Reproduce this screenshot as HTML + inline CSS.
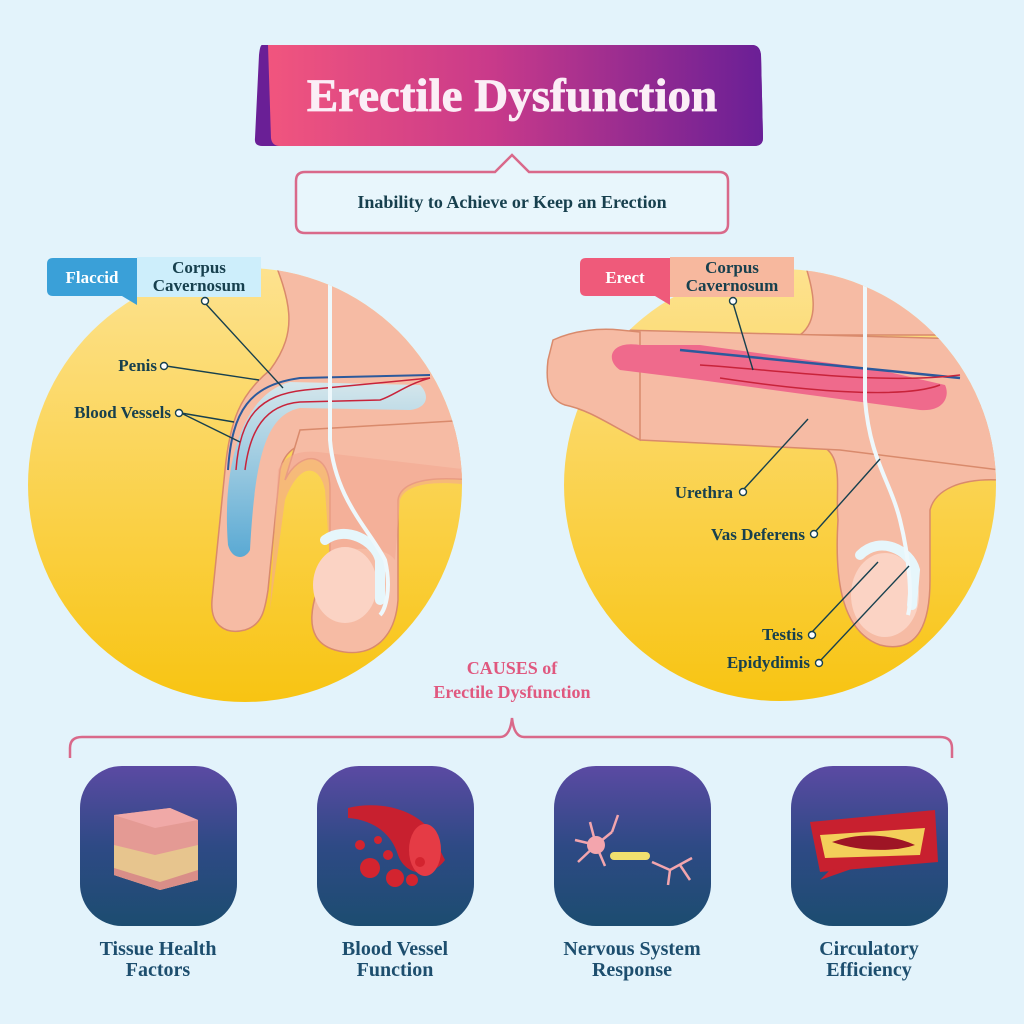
<!DOCTYPE html>
<html><head><meta charset="utf-8"><style>
html,body{margin:0;padding:0;background:#e3f3fb}
svg{display:block}
.lb{font-family:"Liberation Serif",serif;font-weight:bold;fill:#17404e}
</style></head><body>
<svg width="1024" height="1024" viewBox="0 0 1024 1024" xmlns="http://www.w3.org/2000/svg">
<defs>
<linearGradient id="ban" x1="0" x2="1" y1="0" y2="0"><stop offset="0" stop-color="#f1557e"/><stop offset="0.45" stop-color="#c93a8a"/><stop offset="1" stop-color="#6a1f96"/></linearGradient>
<linearGradient id="yel" x1="0" x2="0" y1="0" y2="1"><stop offset="0" stop-color="#fde28f"/><stop offset="1" stop-color="#f8c412"/></linearGradient>
<linearGradient id="tile" x1="0" x2="0" y1="0" y2="1"><stop offset="0" stop-color="#5b4aa3"/><stop offset="0.5" stop-color="#2e4a85"/><stop offset="1" stop-color="#1c4c70"/></linearGradient>
<linearGradient id="blu" x1="0" x2="0" y1="0" y2="1"><stop offset="0" stop-color="#cfeef8"/><stop offset="1" stop-color="#3ea6dc"/></linearGradient>
<clipPath id="cl"><circle cx="245" cy="485" r="217"/></clipPath>
<clipPath id="cr"><circle cx="780" cy="485" r="216"/></clipPath>
</defs>
<rect width="1024" height="1024" fill="#e3f3fb"/>

<!-- Banner -->
<path d="M262,45 L752,45 Q760,45 761,55 L763,138 Q763,146 754,146 L262,146 Q254,146 255,138 L259,55 Q260,45 262,45Z" fill="#6a1f96"/>
<path d="M268,45 L752,45 Q760,45 761,55 L763,138 Q763,146 754,146 L280,146 Q272,146 271,138 Z" fill="url(#ban)"/>
<text x="512" y="111" text-anchor="middle" font-family="Liberation Serif,serif" font-weight="bold" font-size="47" fill="#fbeef6" stroke="#fbeef6" stroke-width="0.8">Erectile Dysfunction</text>

<!-- Subtitle -->
<path d="M305,172 L495,172 L512,155 L529,172 L719,172 Q728,172 728,181 L728,224 Q728,233 719,233 L305,233 Q296,233 296,224 L296,181 Q296,172 305,172Z" fill="#e8f6fc" stroke="#d9698a" stroke-width="2.5"/>
<text x="512" y="208" text-anchor="middle" class="lb" font-size="18" fill="#1d3f55">Inability to Achieve or Keep an Erection</text>

<!-- Left circle -->
<circle cx="245" cy="485" r="217" fill="url(#yel)"/>
<g clip-path="url(#cl)">
  <path d="M270,250 C290,300 300,330 270,370 C240,395 230,420 225,470 L212,600 C210,625 225,635 245,630 C262,625 265,610 268,590 L280,470 C285,450 300,440 320,445 L470,470 L470,250Z" fill="#f6bba4" stroke="#d98a6c" stroke-width="1.5"/>
  <path d="M285,480 C300,450 330,450 330,490 L330,560 C310,600 300,640 335,650 C370,660 395,640 398,600 L398,500 C400,485 420,475 470,480 L470,420 L300,430Z" fill="#f6bba4" stroke="#d98a6c" stroke-width="1.5"/>
  <path d="M278,470 C285,455 300,450 318,452 L470,470 L470,485 C430,480 405,485 400,500 L395,560 C385,545 345,545 330,560 L325,490 C320,465 300,460 285,500 L270,610 Z" fill="#f4a993" opacity="0.6"/>
  <ellipse cx="345" cy="585" rx="32" ry="38" fill="#fbd3c4"/>
  <path d="M325,540 C345,525 375,540 380,560 L380,600" stroke="#e6f6fb" stroke-width="10" fill="none" stroke-linecap="round"/>
  <path d="M228,545 C222,470 240,395 290,382 L420,385 C430,395 428,408 410,410 L300,408 C265,415 255,460 250,550 C245,560 232,560 228,545Z" fill="url(#blu)" opacity="0.85"/>
  <path d="M228,470 C232,410 250,385 300,378 L430,375" stroke="#2c5a9c" stroke-width="2" fill="none"/>
  <path d="M236,470 C240,415 260,395 305,390 L430,378" stroke="#c8233a" stroke-width="1.5" fill="none"/>
  <path d="M245,470 C250,430 265,405 300,402 L380,400 C395,395 405,385 430,378" stroke="#c8233a" stroke-width="1.5" fill="none"/>
  <path d="M330,250 L330,440 C335,500 370,530 385,560 C392,590 385,610 380,615" stroke="#eef8fc" stroke-width="4" fill="none"/>
</g>
<!-- Left labels -->
<path d="M49,258 L137,258 L137,305 L122,296 L53,296 Q47,296 47,290 L47,264 Q47,258 53,258Z" fill="#3aa0d8"/>
<text x="92" y="283" text-anchor="middle" font-family="Liberation Serif,serif" font-weight="bold" font-size="17" fill="#fff">Flaccid</text>
<rect x="137" y="257" width="124" height="40" fill="#cdeefb"/>
<text x="199" y="273" text-anchor="middle" class="lb" font-size="17">Corpus</text>
<text x="199" y="291" text-anchor="middle" class="lb" font-size="17">Cavernosum</text>
<g stroke="#17404e" stroke-width="1.4" fill="#fff">
<line x1="205" y1="303" x2="283" y2="388"/><circle cx="205" cy="301" r="3.5"/>
<line x1="166" y1="366" x2="259" y2="380"/><circle cx="164" cy="366" r="3.5"/>
<line x1="181" y1="413" x2="234" y2="422"/><line x1="181" y1="413" x2="240" y2="442"/><circle cx="179" cy="413" r="3.5"/>
</g>
<text x="157" y="371" text-anchor="end" class="lb" font-size="17">Penis</text>
<text x="171" y="418" text-anchor="end" class="lb" font-size="17">Blood Vessels</text>

<!-- Right circle -->
<circle cx="780" cy="485" r="216" fill="url(#yel)"/>
<g clip-path="url(#cr)">
  <path d="M800,250 C815,290 820,320 800,335 L1000,335 L1000,250Z" fill="#f6bba4" stroke="#d98a6c" stroke-width="1.5"/>
  <path d="M820,445 C845,455 835,490 838,520 C835,570 838,630 880,645 C920,655 930,620 930,580 L930,510 C935,490 960,478 1000,480 L1000,400 Z" fill="#f6bba4" stroke="#d98a6c" stroke-width="1.5"/>
  <ellipse cx="885" cy="595" rx="34" ry="42" fill="#fbd3c4"/>
  <path d="M860,555 C880,535 910,550 915,570 L912,605" stroke="#e6f6fb" stroke-width="10" fill="none" stroke-linecap="round"/>
</g>
<path d="M553,340 C575,330 600,328 620,330 L820,335 L1000,340 L1000,470 L840,450 L640,440 C610,425 590,410 565,405 C550,400 545,385 548,360 Z" fill="#f6bba4" stroke="#d98a6c" stroke-width="1.5" clip-path="url(#cr)"/>
<path d="M553,340 C575,330 600,328 620,330 L640,332 L640,440 C610,425 590,410 565,405 C550,400 545,385 548,360 Z" fill="#f6bba4" stroke="#d98a6c" stroke-width="1.5"/>
<path d="M640,345 C610,340 605,360 620,370 L700,380 L920,410 C945,412 950,395 945,385 L880,370 L700,345Z" fill="#ef6a8c"/>
<path d="M680,350 L960,378" stroke="#2c5a9c" stroke-width="2.5" fill="none" clip-path="url(#cr)"/>
<path d="M700,365 C780,370 880,385 960,375" stroke="#c8233a" stroke-width="1.5" fill="none" clip-path="url(#cr)"/>
<path d="M720,378 C800,390 900,400 940,385" stroke="#c8233a" stroke-width="1.5" fill="none"/>
<path d="M865,285 L865,400 C870,460 890,480 900,520 C910,560 912,600 908,615" stroke="#eef8fc" stroke-width="4" fill="none" clip-path="url(#cr)"/>
<!-- Right labels -->
<path d="M586,258 L670,258 L670,305 L655,296 L586,296 Q580,296 580,290 L580,264 Q580,258 586,258Z" fill="#ef5a7a"/>
<text x="625" y="283" text-anchor="middle" font-family="Liberation Serif,serif" font-weight="bold" font-size="17" fill="#fff">Erect</text>
<rect x="670" y="257" width="124" height="40" fill="#f7b89e"/>
<text x="732" y="273" text-anchor="middle" class="lb" font-size="17">Corpus</text>
<text x="732" y="291" text-anchor="middle" class="lb" font-size="17">Cavernosum</text>
<g stroke="#17404e" stroke-width="1.4" fill="#fff">
<line x1="733" y1="303" x2="753" y2="370"/><circle cx="733" cy="301" r="3.5"/>
<line x1="743" y1="490" x2="808" y2="419"/><circle cx="743" cy="492" r="3.5"/>
<line x1="815" y1="532" x2="880" y2="459"/><circle cx="814" cy="534" r="3.5"/>
<line x1="812" y1="632" x2="878" y2="562"/><circle cx="812" cy="635" r="3.5"/>
<line x1="820" y1="661" x2="909" y2="566"/><circle cx="819" cy="663" r="3.5"/>
</g>
<text x="733" y="498" text-anchor="end" class="lb" font-size="17">Urethra</text>
<text x="805" y="540" text-anchor="end" class="lb" font-size="17">Vas Deferens</text>
<text x="803" y="640" text-anchor="end" class="lb" font-size="17">Testis</text>
<text x="810" y="668" text-anchor="end" class="lb" font-size="17">Epidydimis</text>

<!-- Causes -->
<text x="512" y="674" text-anchor="middle" font-family="Liberation Serif,serif" font-weight="bold" font-size="18" fill="#e0587f">CAUSES of</text>
<text x="512" y="698" text-anchor="middle" font-family="Liberation Serif,serif" font-weight="bold" font-size="18" fill="#e0587f">Erectile Dysfunction</text>
<path d="M70,758 L70,748 Q70,737 82,737 L500,737 Q510,737 512,718 Q514,737 524,737 L940,737 Q952,737 952,748 L952,758" stroke="#d9698a" stroke-width="2.5" fill="none"/>

<!-- Tiles -->
<g>
<rect x="80" y="766" width="157" height="160" rx="42" fill="url(#tile)"/>
<rect x="317" y="766" width="157" height="160" rx="42" fill="url(#tile)"/>
<rect x="554" y="766" width="157" height="160" rx="42" fill="url(#tile)"/>
<rect x="791" y="766" width="157" height="160" rx="42" fill="url(#tile)"/>
</g>
<!-- tissue -->
<path d="M114,815 L170,808 L198,820 L198,880 L160,890 L114,875Z" fill="#e49a94"/>
<path d="M114,815 L170,808 L198,820 L155,828Z" fill="#f0a9a7"/>
<path d="M114,845 L155,855 L198,845 L198,880 L160,890 L114,875Z" fill="#e7c58e"/>
<path d="M114,868 L160,882 L198,870 L198,880 L160,890 L114,875Z" fill="#d98e88"/>
<!-- blood vessel -->
<path d="M348,808 C380,800 415,810 430,830 L445,860 C430,880 405,875 398,855 C392,835 375,820 348,818Z" fill="#c8202f"/>
<ellipse cx="425" cy="850" rx="16" ry="26" fill="#e53b45"/>
<g fill="#d3242f"><circle cx="370" cy="868" r="10"/><circle cx="395" cy="878" r="9"/><circle cx="360" cy="845" r="5"/><circle cx="378" cy="840" r="4"/><circle cx="412" cy="880" r="6"/><circle cx="420" cy="862" r="5"/><circle cx="388" cy="855" r="5"/></g>
<!-- neuron -->
<g stroke="#f3a5ad" stroke-width="2.5" fill="none">
<path d="M575,840 L596,845 L612,832 M596,845 L590,822 M596,845 L578,862 M596,845 L605,866 M612,832 L618,815"/>
<path d="M652,862 L670,870 L692,858 M670,870 L668,885 M680,865 L690,880"/>
</g>
<circle cx="596" cy="845" r="9" fill="#f3a5ad"/>
<rect x="610" y="852" width="40" height="8" rx="4" fill="#f0e06e"/>
<!-- circulatory -->
<path d="M810,822 L935,810 L938,862 L820,872 Z" fill="#c8202f"/>
<path d="M820,835 L925,828 L920,855 L825,858Z" fill="#f3cf5a"/>
<path d="M832,842 C860,832 890,834 915,845 C895,852 860,852 832,842Z" fill="#9e1525"/>
<path d="M830,870 L820,880 L860,866Z" fill="#c8202f"/>

<g font-family="Liberation Serif,serif" font-weight="bold" font-size="20" fill="#1d4e6e" text-anchor="middle">
<text x="158" y="955">Tissue Health</text><text x="158" y="976">Factors</text>
<text x="395" y="955">Blood Vessel</text><text x="395" y="976">Function</text>
<text x="632" y="955">Nervous System</text><text x="632" y="976">Response</text>
<text x="869" y="955">Circulatory</text><text x="869" y="976">Efficiency</text>
</g>
</svg>
</body></html>
